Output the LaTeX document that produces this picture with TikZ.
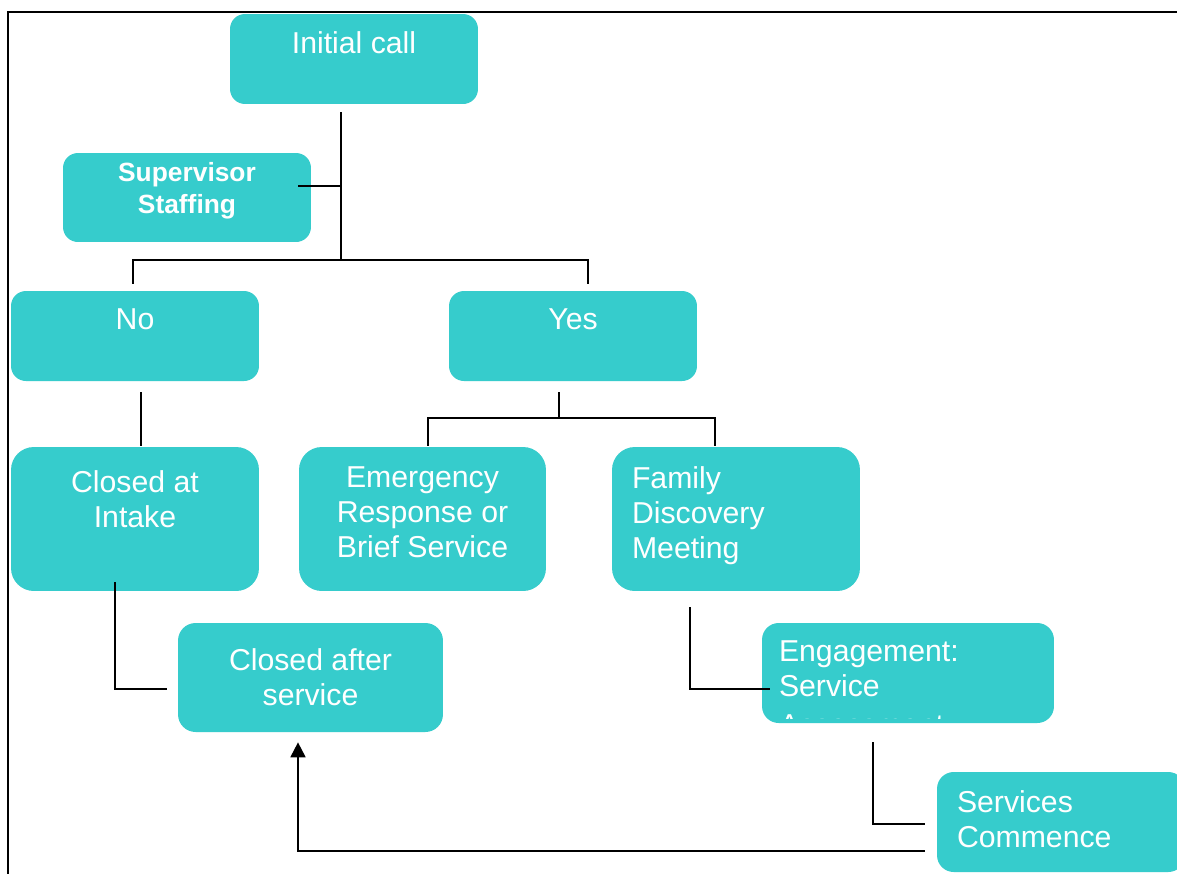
\documentclass[tikz,border=0pt]{standalone}
\usepackage{fontspec}
\setmainfont{Liberation Sans}
\usetikzlibrary{calc,arrows.meta}
\definecolor{boxteal}{RGB}{54,204,204}

\begin{document}
\begin{tikzpicture}[x=0.02cm, y=-0.02cm,
    flowbox/.style={fill=boxteal, text=white, inner sep=0pt, rounded corners=8.5pt, font=\fontsize{17.2}{19.8}\selectfont},
    bigbox/.style={flowbox, rounded corners=13pt},
    link/.style={line width=1.1pt}]
      \useasboundingbox[fill=white] (0,0) rectangle (1177,873);
      \clip (0,0) rectangle (1177,873);
      \draw[link] (8,880) |- (1190,12);

      \node[flowbox] (init) at (354,59) {\parbox[c][1.8cm][t]{4.96cm}{\centering\vspace*{0.36cm}Initial call}};

      \node[flowbox, font=\fontsize{15}{18}\selectfont\bfseries] (sup) at (187,197.5) {\parbox[c][1.78cm][t]{4.96cm}{\centering\vspace*{0.19cm}Supervisor\\Staffing}};

      \node[flowbox] (no) at (135,336) {\parbox[c][1.8cm][t]{4.96cm}{\centering\vspace*{0.36cm}No}};

      \node[flowbox] (yes) at (573,336) {\parbox[c][1.8cm][t]{4.96cm}{\centering\vspace*{0.36cm}Yes}};

      \node[bigbox] (intake) at (135,519) {\parbox[c][2.88cm][t]{4.96cm}{\centering\vspace*{0.47cm}Closed at\\Intake}};

      \node[bigbox] (emerg) at (422.5,519) {\parbox[c][2.88cm][t]{4.94cm}{\centering\vspace*{0.40cm}Emergency\\Response or\\Brief Service}};

      \node[bigbox] (family) at (736,519) {\parbox[c][2.88cm][t]{4.96cm}{\raggedright\leftskip=0.4cm\vspace*{0.40cm}Family\\Discovery\\Meeting}};

      \node[flowbox, rounded corners=10pt] (after) at (310.5,677.5) {\parbox[c][2.18cm][t]{5.3cm}{\centering\vspace*{0.52cm}Closed after\\service}};

      \node[flowbox, rounded corners=9.5pt, path picture={
          \clip (path picture bounding box.north west) rectangle ($(path picture bounding box.south east)+(0,-5)$);
          \node[anchor=north west, inner sep=0pt, text=white, font=\fontsize{17.2}{19.8}\selectfont] at ($(path picture bounding box.north west)+(17,91)$) {Assessment};}] (engage) at (908,673) {\parbox[c][2.0cm][t]{5.84cm}{\raggedright\leftskip=0.34cm\vspace*{0.36cm}Engagement:\\Service}};

      \node[flowbox, rounded corners=9.5pt] (commence) at (1061,822) {\parbox[c][2.0cm][t]{4.96cm}{\raggedright\leftskip=0.4cm\vspace*{0.38cm}Services\\Commence}};

      \coordinate (split) at (341,260);
      \coordinate (ysplit) at (559,418);

      \draw[link] ($(init.south)+(-13,8)$) -- (split);
      \draw[link] ($(sup.east)+(-13,-11.5)$) -- ++(43,0);
      \draw[link] ($(no.north)+(-2,-7)$) |- (split) -| ($(yes.north)+(15,-7)$);
      \draw[link] ($(yes.south)+(-14,11)$) -- (ysplit);
      \draw[link] ($(emerg.north)+(5.5,-1)$) |- (ysplit) -| ($(family.north)+(-21,-1)$);
      \draw[link] ($(no.south)+(6,11)$) -- ($(intake.north)+(6,-1)$);
      \draw[link] ($(intake.south)+(-20,-9)$) |- ($(after.west)+(-11,11.5)$);
      \draw[link] ($(family.south)+(-46,16)$) |- ($(engage.west)+(8,16)$);
      \draw[link] ($(engage.south)+(-35,19)$) |- ($(commence.west)+(-12,2)$);
      \draw[link, -{Triangle[length=8.5pt, width=8.5pt]}] ($(commence.west)+(-12,29)$) -| ($(after.south)+(-12.5,10)$);
    \end{tikzpicture}
\end{document}
